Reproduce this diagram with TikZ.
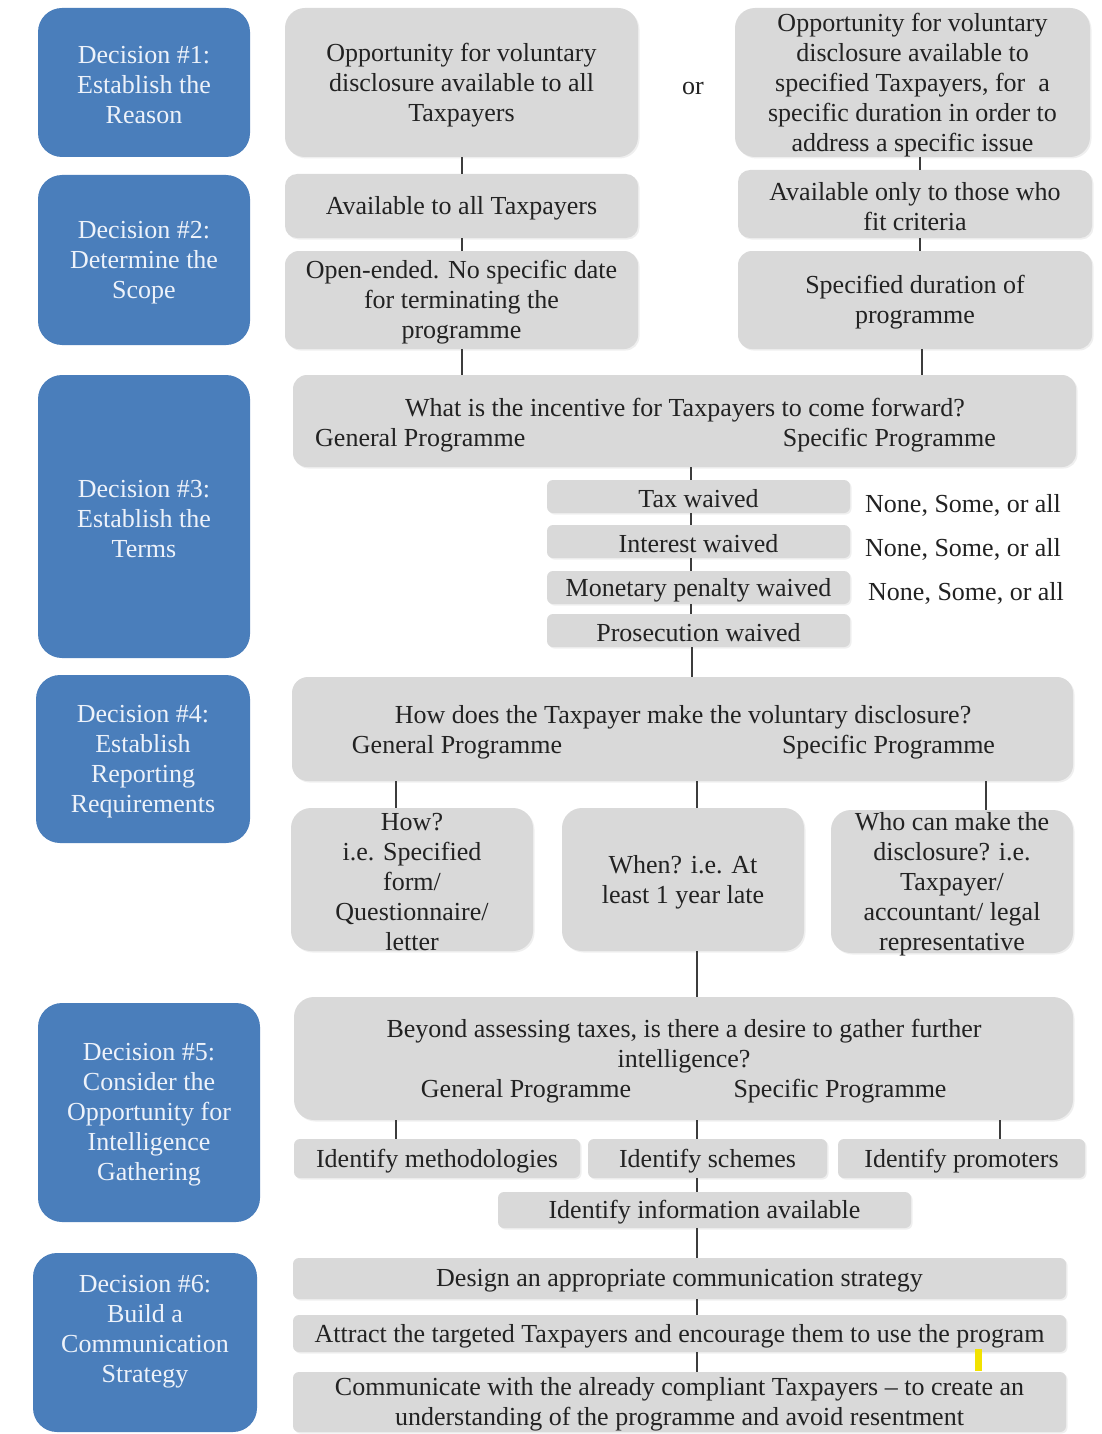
\documentclass[tikz,border=0pt]{standalone}
\usepackage{fontspec}
\IfFontExistsTF{LiberationSerif-Regular.ttf}
  {\setmainfont{LiberationSerif-Regular.ttf}}
  {\setmainfont{Liberation Serif}}
\usetikzlibrary{shadows}
\definecolor{dblue}{HTML}{4A7EBB}
\definecolor{lgray}{HTML}{D9D9D9}
\definecolor{btxtc}{HTML}{EDF2FA}
\definecolor{gtxtc}{HTML}{222222}
\definecolor{linec}{HTML}{3C3C3C}
\definecolor{hilite}{HTML}{F2E200}
% box (style, name, centre, width, height, text style, text)
\newcommand\bx[7]{%
  \node[#1, minimum width=#4, minimum height=#5] (#2) at (#3) {};
  \node[#6] (#2t) at ([yshift=-2.5pt]#2.center) {#7};}
\begin{document}
\begin{tikzpicture}[x=1pt,y=-1pt,
  fnt/.style={font=\fontsize{26}{30}\selectfont},
  bluebox/.style={fill=dblue, rounded corners=24pt, inner sep=0pt},
  graybox/.style={fill=lgray, rounded corners=20pt, inner sep=0pt,
     drop shadow={opacity=0.12, shadow xshift=1.5pt, shadow yshift=-1.5pt}},
  smallbox/.style={graybox, rounded corners=6pt},
  btxt/.style={fnt, text=btxtc, inner sep=0pt, align=center},
  txt/.style={fnt, text=gtxtc, inner sep=0pt, align=center},
  conn/.style={draw=linec, line width=1.3pt}]
\useasboundingbox (0,0) rectangle (1102,1434);
\fill[white] (0,0) rectangle (1102,1434);

% spine coordinates
\coordinate (lspine) at (462,0);
\coordinate (rspine) at (920,0);
\coordinate (rspineb) at (922,0);
\coordinate (mspine) at (691,0);
\coordinate (cspine) at (697,0);
\coordinate (aspine) at (396,0);
\coordinate (bspine) at (986,0);
\coordinate (pspine) at (1000,0);

% ---------- blue decision boxes ----------
\bx{bluebox}{d1}{144,82.5}{212}{149}{btxt}{Decision \#1:\\Establish the\\Reason}
\bx{bluebox}{d2}{144,260}{212}{170}{btxt}{Decision \#2:\\Determine the\\Scope}
\bx{bluebox}{d3}{144,516.5}{212}{283}{btxt}{Decision \#3:\\Establish the\\Terms}
\bx{bluebox}{d4}{143,759}{214}{168}{btxt}{Decision \#4:\\Establish\\Reporting\\Requirements}
\bx{bluebox}{d5}{149,1112.5}{222}{219}{btxt}{Decision \#5:\\Consider the\\Opportunity for\\Intelligence\\Gathering}
\node[bluebox, minimum width=224, minimum height=179] (d6) at (145,1342.5) {};
\node[btxt] (d6t) at (145,1331.5) {Decision \#6:\\Build a\\Communication\\Strategy};

% ---------- decision 1 & 2 ----------
\bx{graybox}{g1a}{461.5,82.5}{353}{149}{txt}{Opportunity for voluntary\\disclosure available to all\\Taxpayers}
\node[txt] (or) at (693,89) {or};
\bx{graybox}{g1b}{912.5,82.5}{355}{149}{txt}{Opportunity for voluntary\\disclosure available to\\specified Taxpayers, for\ \ a\\specific duration in order to\\address a specific issue}
\bx{graybox, rounded corners=12pt}{g2a}{461.5,206}{353}{64}{txt}{Available to all Taxpayers}
\bx{graybox, rounded corners=12pt}{g2b}{915,204}{354}{68}{txt}{Available only to those who\\fit criteria}
\bx{graybox, rounded corners=14pt}{g3a}{461.5,300}{353}{98}{txt}{Open-ended. No specific date\\for terminating the\\programme}
\bx{graybox, rounded corners=14pt}{g3b}{915,300}{354}{98}{txt}{Specified duration of\\programme}

\draw[conn] (g1a.south -| lspine) -- (g2a.north -| lspine);
\draw[conn] (g2a.south -| lspine) -- (g3a.north -| lspine);
\draw[conn] (g1b.south -| rspine) -- (g2b.north -| rspine);
\draw[conn] (g2b.south -| rspine) -- (g3b.north -| rspine);

% ---------- decision 3 ----------
\node[graybox, rounded corners=14pt, minimum width=783, minimum height=92] (q3) at (684.5,421) {};
\node[txt] (q3t) at (685,410) {What is the incentive for Taxpayers to come forward?};
\node[txt, anchor=west] (q3g) at (315,440) {General Programme};
\node[txt, anchor=east] (q3s) at (996,440) {Specific Programme};
\draw[conn] (g3a.south -| lspine) -- (q3.north -| lspine);
\draw[conn] (g3b.south -| rspineb) -- (q3.north -| rspineb);

\bx{smallbox}{tax}{698.5,496.5}{303}{33}{txt}{Tax waived}
\bx{smallbox}{int}{698.5,541.5}{303}{33}{txt}{Interest waived}
\bx{smallbox}{mon}{698.5,587.5}{303}{33}{txt}{Monetary penalty waived}
\bx{smallbox}{pro}{698.5,630.5}{303}{33}{txt}{Prosecution waived}
\node[txt, anchor=west] (n1) at (865,505) {None, Some, or all};
\node[txt, anchor=west] (n2) at (865,549) {None, Some, or all};
\node[txt, anchor=west] (n3) at (868,593) {None, Some, or all};

\draw[conn] (q3.south -| mspine) -- (tax.north -| mspine);
\draw[conn] (tax.south -| mspine) -- (int.north -| mspine);
\draw[conn] (int.south -| mspine) -- (mon.north -| mspine);
\draw[conn] (mon.south -| mspine) -- (pro.north -| mspine);

% ---------- decision 4 ----------
\node[graybox, rounded corners=16pt, minimum width=781, minimum height=104] (q4) at (682.5,729) {};
\node[txt] (q4t) at (683,717) {How does the Taxpayer make the voluntary disclosure?};
\node[txt] (q4g) at (457,747) {General Programme};
\node[txt] (q4s) at (888.5,747) {Specific Programme};
\draw[conn] ([xshift=1pt]pro.south -| mspine) -- ([xshift=1pt]q4.north -| mspine);

\bx{graybox}{b4a}{412,879.5}{242}{143}{txt}{How?\\i.e. Specified\\form/\\Questionnaire/\\letter}
\bx{graybox}{b4b}{683,879.5}{242}{143}{txt}{When? i.e. At\\least 1 year late}
\bx{graybox}{b4c}{952,881.5}{242}{143}{txt}{Who can make the\\disclosure? i.e.\\Taxpayer/\\accountant/ legal\\representative}
\draw[conn] (q4.south -| aspine) -- (b4a.north -| aspine);
\draw[conn] (q4.south -| cspine) -- (b4b.north -| cspine);
\draw[conn] (q4.south -| bspine) -- (b4c.north -| bspine);

% ---------- decision 5 ----------
\node[graybox, minimum width=779, minimum height=123] (q5) at (683.5,1058.5) {};
\node[txt] (q5t) at (684,1046.5) {Beyond assessing taxes, is there a desire to gather further\\intelligence?};
\node[txt] (q5g) at (526,1091) {General Programme};
\node[txt] (q5s) at (840,1091) {Specific Programme};
\draw[conn] (b4b.south -| cspine) -- (q5.north -| cspine);

\bx{smallbox}{meth}{437,1158.5}{286}{39}{txt}{Identify methodologies}
\bx{smallbox}{sch}{707.5,1158.5}{239}{39}{txt}{Identify schemes}
\bx{smallbox}{prom}{961.5,1158.5}{247}{39}{txt}{Identify promoters}
\bx{smallbox}{info}{704.5,1210}{413}{36}{txt}{Identify information available}
\draw[conn] (q5.south -| aspine) -- (meth.north -| aspine);
\draw[conn] (q5.south -| cspine) -- (sch.north -| cspine);
\draw[conn] (q5.south -| pspine) -- (prom.north -| pspine);
\draw[conn] (sch.south -| cspine) -- (info.north -| cspine);

% ---------- decision 6 ----------
\bx{smallbox}{design}{679.5,1278.5}{773}{41}{txt}{Design an appropriate communication strategy}
\bx{smallbox}{attract}{679.5,1333.5}{773}{37}{txt}{Attract the targeted Taxpayers and encourage them to use the program}
\bx{smallbox}{comm}{679.5,1402}{773}{60}{txt}{Communicate with the already compliant Taxpayers -- to create an\\understanding of the programme and avoid resentment}
\draw[conn] (info.south -| cspine) -- (design.north -| cspine);
\draw[conn] (design.south -| cspine) -- (attract.north -| cspine);
\draw[conn] (attract.south -| cspine) -- (comm.north -| cspine);

\fill[hilite] (975,1349) rectangle (982,1371);
\end{tikzpicture}
\end{document}
